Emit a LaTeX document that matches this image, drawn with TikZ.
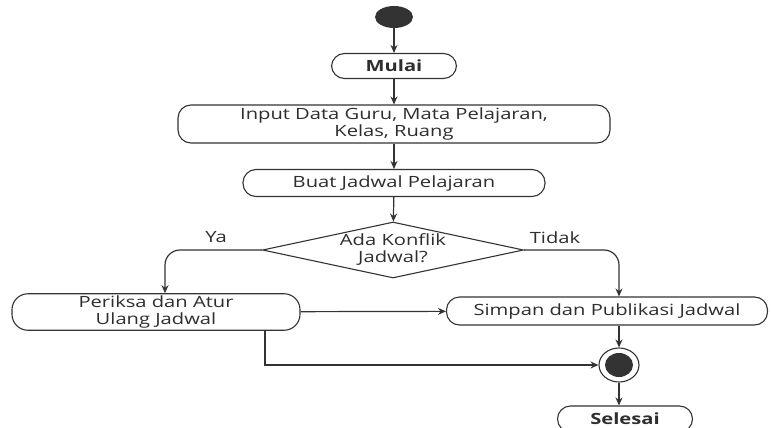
\documentclass[tikz,border=0pt]{standalone}
\usepackage{fontspec}
\setmainfont{Open Sans}[FakeStretch=1.3]
\usetikzlibrary{arrows.meta,shapes.geometric}
\definecolor{linegray}{HTML}{333333}
\definecolor{textgray}{HTML}{2E2E2E}
\begin{document}
\begin{tikzpicture}[x=1pt,y=-1pt,
  font=\fontsize{15.5}{17}\selectfont, text=textgray,
  act/.style={rectangle, rounded corners=13pt, draw=linegray, line width=1.1pt, align=center, inner sep=2pt},
  decision/.style={diamond, draw=linegray, line width=1.1pt, align=center, inner sep=0pt, aspect=4.66},
  flow/.style={draw=linegray, line width=1.2pt, -{Stealth[length=8pt,width=7pt]}}]
\useasboundingbox[fill=white] (0,0) rectangle (771,428);

\fill[linegray] (394,17) ellipse [x radius=19, y radius=11];
\coordinate (start) at (394,28);
\node[act, minimum width=125pt, minimum height=25pt, font=\fontsize{15.5}{17}\selectfont\bfseries] (mulai) at (394,66) {Mulai};
\node[act, minimum width=432pt, minimum height=38pt] (input) at (394,124) {Input Data Guru, Mata Pelajaran,\\Kelas, Ruang};
\node[act, minimum width=302pt, minimum height=27pt] (buat) at (394,183) {Buat Jadwal Pelajaran};
\node[decision, minimum width=261pt, minimum height=56pt] (konflik) at (393,250) {Ada Konflik\\Jadwal?};
\node[act, rounded corners=16pt, minimum width=288pt, minimum height=34pt] (periksa) at (156,312) {Periksa dan Atur\\Ulang Jadwal};
\node[act, minimum width=321pt, minimum height=28pt] (simpan) at (607,311) {Simpan dan Publikasi Jadwal};
\node[ellipse, draw=linegray, line width=1.1pt, minimum width=40pt, minimum height=34pt, inner sep=0pt] (akhir) at (619,365) {};
\fill[linegray] (akhir) ellipse [x radius=14, y radius=12];
\node[act, minimum width=135pt, minimum height=26pt, font=\fontsize{15.5}{17}\selectfont\bfseries] (selesai) at (625,419) {Selesai};

\node (ya) at (216,237) {Ya};
\node (tidak) at (555,238) {Tidak};

\draw[flow] (start) -- (mulai);
\draw[flow] (mulai) -- (input);
\draw[flow] (input) -- (buat);
\draw[flow] (buat) -- (konflik);
\draw[flow, rounded corners=15pt] (konflik.west) -| ([xshift=9pt]periksa.north);
\draw[flow, rounded corners=15pt] (konflik.east) -| (akhir.north |- simpan.north);
\draw[flow] (periksa) -- (simpan);
\draw[flow] (akhir.north |- simpan.south) -- (akhir);
\draw[flow] ([xshift=109pt]periksa.south) |- (akhir);
\draw[flow] (akhir) -- (akhir.center |- selesai.north);
\end{tikzpicture}
\end{document}
